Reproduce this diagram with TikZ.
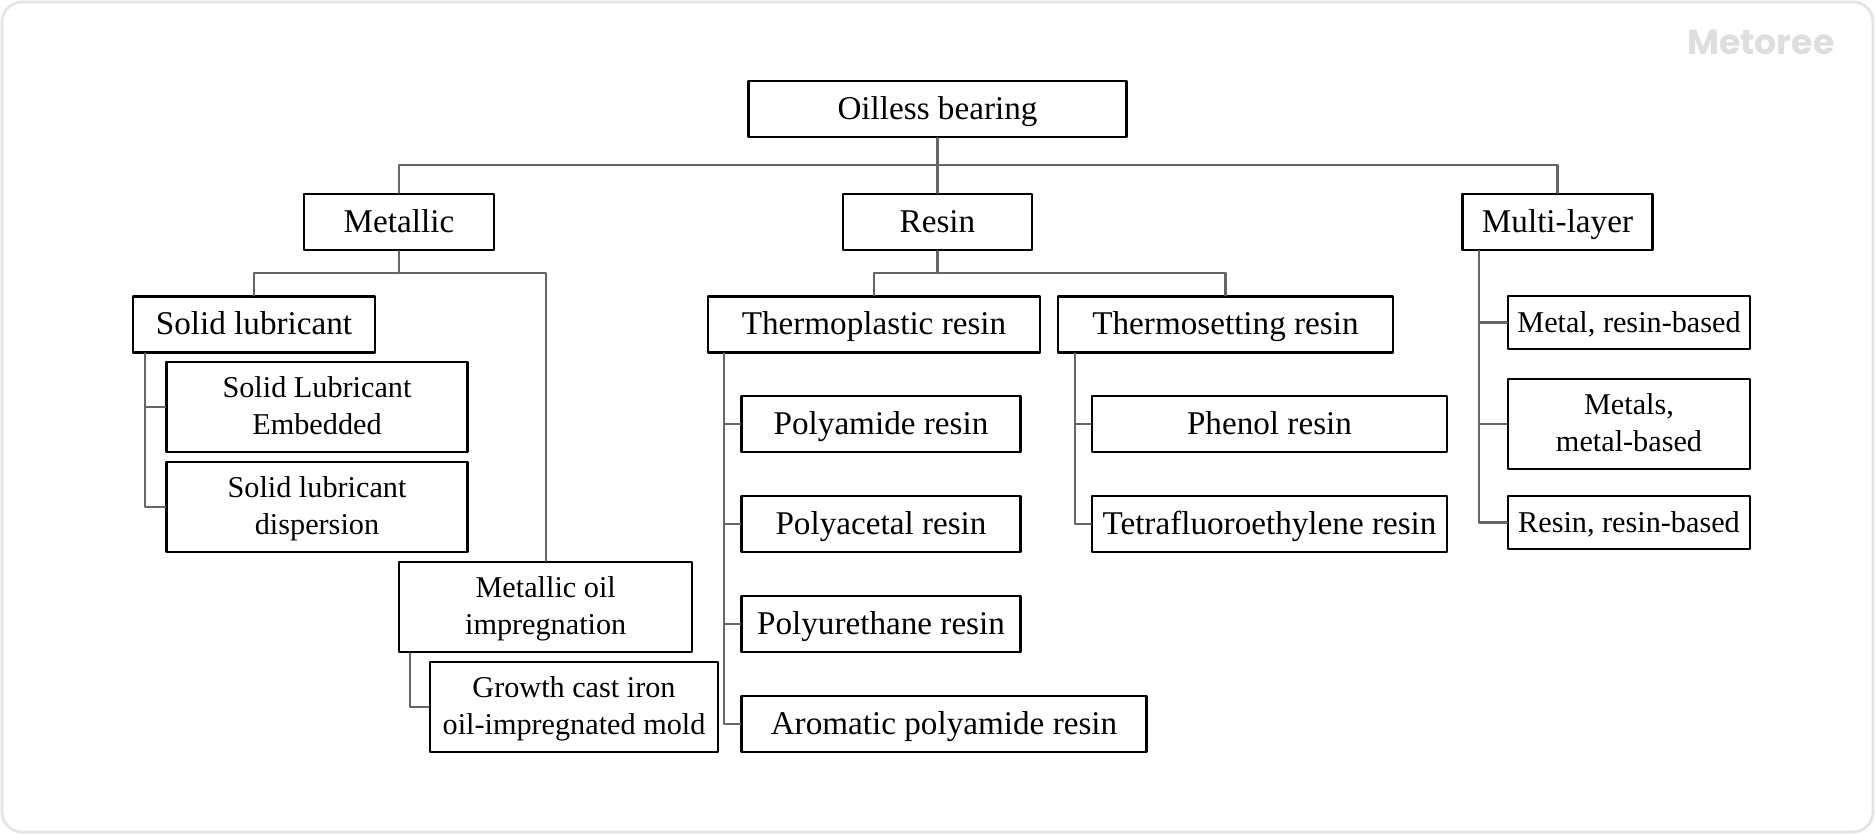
\documentclass[tikz,border=0pt]{standalone}
\usepackage{fontspec}
\setmainfont{Liberation Serif}
\newfontfamily\logofont{Poppins}
\usetikzlibrary{positioning}
\definecolor{linkgray}{HTML}{666666}
\definecolor{framegray}{HTML}{E4E4E4}
\definecolor{logogray}{HTML}{DEDEDE}
\tikzset{
	box/.style={draw=black,line width=0.6pt,fill=white,inner sep=0pt,minimum height=0.56cm,align=center,font=\fontsize{9.44}{10.5}\selectfont,
		execute at begin node={\rule{0pt}{8pt}},execute at end node={\rule[-2.3pt]{0pt}{2.3pt}}},
	subbox/.style={box,font=\fontsize{8.6}{10.5}\selectfont,
		execute at begin node={\rule{0pt}{7.2pt}},execute at end node={\rule[-2.2pt]{0pt}{2.2pt}}},
	tallbox/.style={subbox,minimum height=0.90cm,execute at begin node={\rule{0pt}{17.8pt}}},
	link/.style={draw=linkgray,line width=0.6pt}
}

\begin{document}
\begin{tikzpicture}[line cap=round,line join=round,x=1.0cm,y=1.0cm]
	\useasboundingbox (0,0) rectangle (18.75,8.34);
	\draw [draw=framegray,line width=0.8pt,rounded corners=0.2cm] (0.02,0.02) rectangle (18.73,8.32);
	\node [text=logogray,font=\logofont\fontsize{9.9}{12}\selectfont\bfseries,inner sep=0pt] (logo) at (17.61,7.92) {Metoree};
	% top row
	\node [box,minimum width=3.78cm] (bearing) at (9.375,7.25) {Oilless bearing};
	\node [box,minimum width=1.90cm] (metallic) at (3.99,6.12) {Metallic};
	\node [box,minimum width=1.89cm] (resin) at (9.375,6.12) {Resin};
	\node [box,minimum width=1.90cm] (multilayer) at (15.575,6.12) {Multi-layer};
	% metallic branch
	\node [box,minimum width=2.42cm] (solid) at (2.54,5.095) {Solid lubricant};
	\node [tallbox,minimum width=3.01cm] (embedded) at (3.17,4.27) {Solid Lubricant\\Embedded};
	\node [tallbox,minimum width=3.01cm] (dispersion) at (3.17,3.27) {Solid lubricant\\dispersion};
	\node [tallbox,minimum width=2.93cm] (oil) at (5.457,2.27) {Metallic oil\\impregnation};
	\node [tallbox,minimum width=2.88cm] (growth) at (5.74,1.27) {Growth cast iron\\oil-impregnated mold};
	% resin branch
	\node [box,minimum width=3.32cm] (plastic) at (8.74,5.095) {Thermoplastic resin};
	\node [box,minimum width=3.35cm] (setting) at (12.255,5.095) {Thermosetting resin};
	\node [box,minimum width=2.79cm] (polyamide) at (8.81,4.10) {Polyamide resin};
	\node [box,minimum width=2.79cm] (polyacetal) at (8.81,3.10) {Polyacetal resin};
	\node [box,minimum width=2.79cm] (polyurethane) at (8.81,2.10) {Polyurethane resin};
	\node [box,minimum width=4.05cm] (aromatic) at (9.44,1.10) {Aromatic polyamide resin};
	\node [box,minimum width=3.55cm] (phenol) at (12.695,4.10) {Phenol resin};
	\node [box,minimum width=3.55cm] (tetra) at (12.695,3.10) {Tetrafluoroethylene resin};
	% multi-layer branch
	\node [subbox,minimum width=2.42cm,minimum height=0.53cm] (metalresin) at (16.29,5.115) {Metal, resin-based};
	\node [tallbox,minimum width=2.42cm] (metalmetal) at (16.29,4.10) {Metals,\\metal-based};
	\node [subbox,minimum width=2.42cm,minimum height=0.53cm] (resinresin) at (16.29,3.115) {Resin, resin-based};
	% bus points
	\coordinate (topbus) at (9.375,6.69);
	\coordinate (metalbus) at (3.99,5.607);
	\coordinate (resinbus) at (9.375,5.607);
	% connectors
	\draw [link] (bearing.south) -- (topbus);
	\draw [link] (metallic.north) |- (topbus);
	\draw [link] (multilayer.north) |- (topbus);
	\draw [link] (resin.north) -- (topbus);
	\draw [link] (metallic.south) -- (metalbus);
	\draw [link] (solid.north) |- (metalbus);
	\draw [link] (oil.north) |- (metalbus);
	\draw [link] (resin.south) -- (resinbus);
	\draw [link] (plastic.north) |- (resinbus);
	\draw [link] (setting.north) |- (resinbus);
	\draw [link] ([xshift=0.127cm]solid.south west) |- (embedded.west);
	\draw [link] ([xshift=0.127cm]solid.south west) |- (dispersion.west);
	\draw [link] ([xshift=0.115cm]oil.south west) |- (growth.west);
	\foreach \kind in {polyamide,polyacetal,polyurethane,aromatic}
		\draw [link] ([xshift=0.167cm]plastic.south west) |- (\kind.west);
	\foreach \kind in {phenol,tetra}
		\draw [link] ([xshift=0.182cm]setting.south west) |- (\kind.west);
	\foreach \kind in {metalresin,metalmetal,resinresin}
		\draw [link] ([xshift=0.178cm]multilayer.south west) |- (\kind.west);
\end{tikzpicture}
\end{document}
